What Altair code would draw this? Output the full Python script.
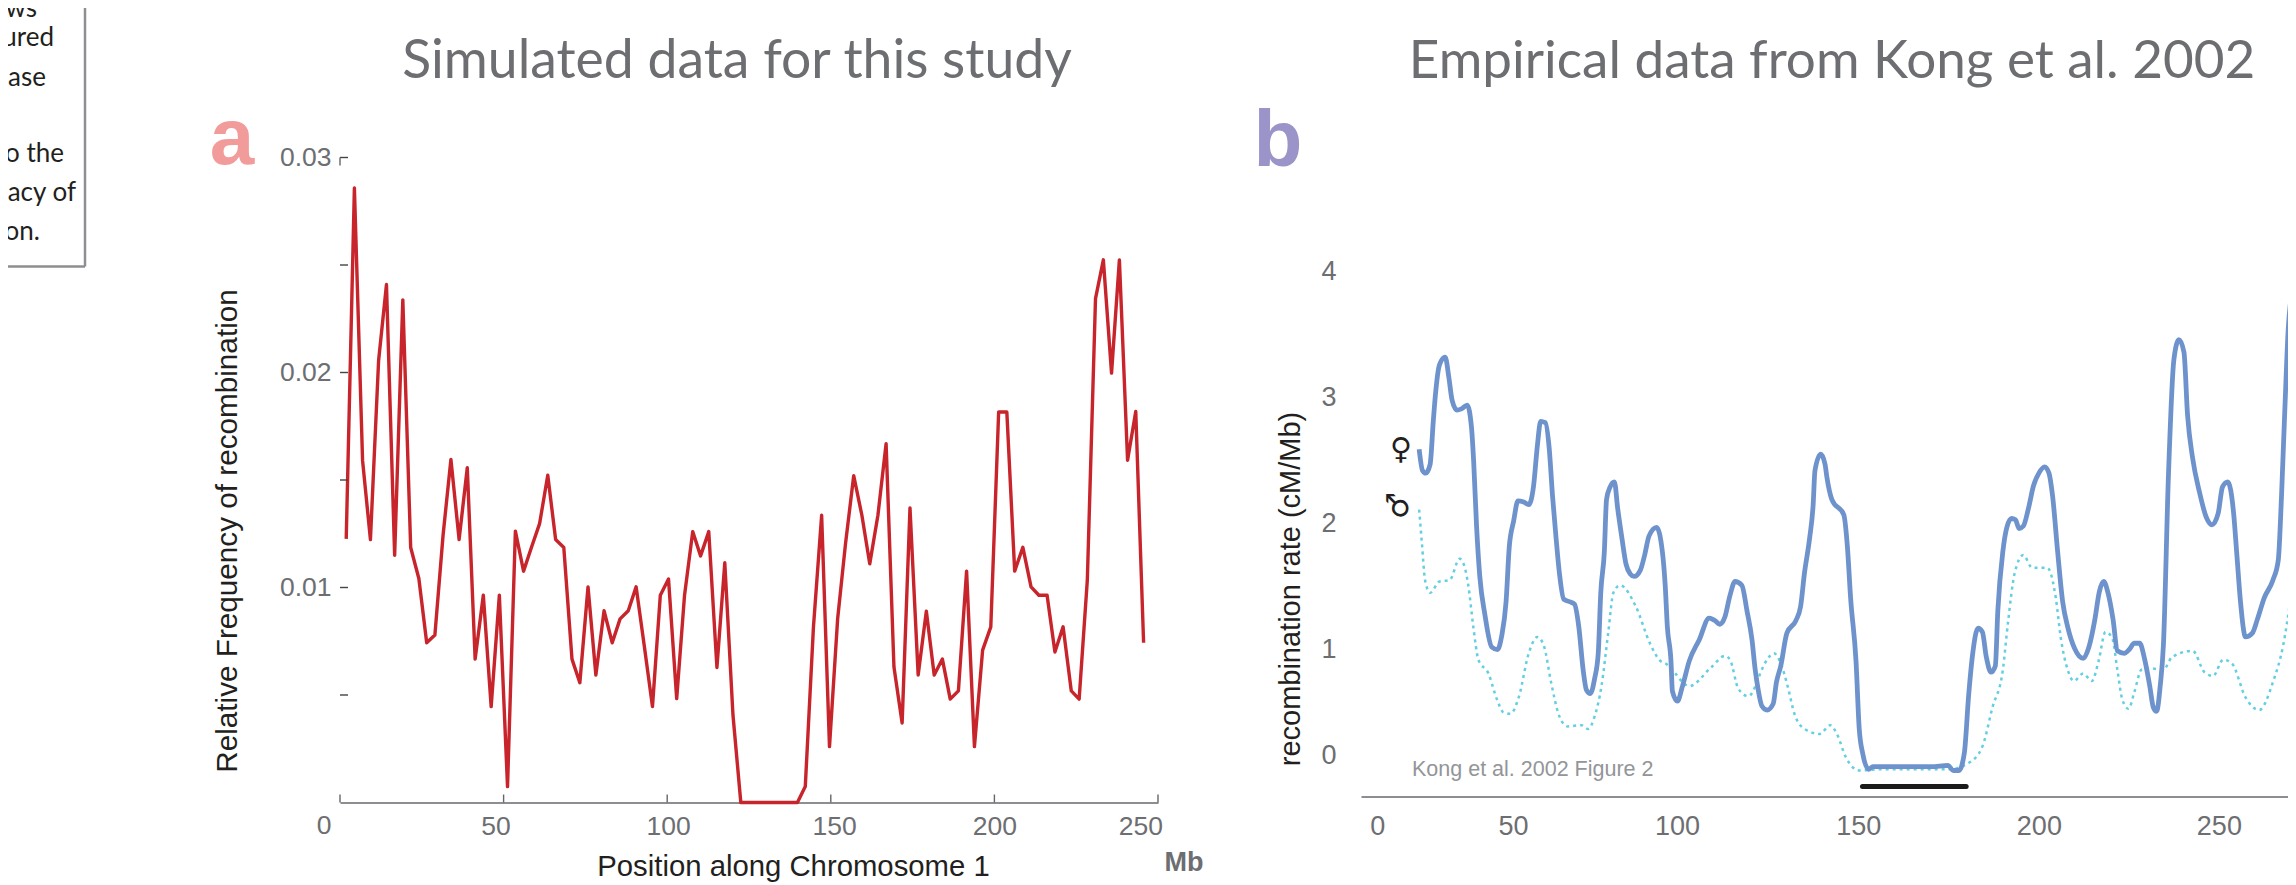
import altair as alt
import pandas as pd

# ---------- panel a: simulated data ----------
sim_x = [1.9,4.4,6.9,9.3,11.8,14.2,16.7,19.2,21.6,24.1,26.5,29.0,31.5,33.9,36.4,38.9,41.3,43.8,46.2,48.7,
         51.2,53.6,56.1,58.5,61.0,63.5,65.9,68.4,70.9,73.3,75.8,78.2,80.7,83.2,85.6,88.1,90.5,93.0,95.5,97.9,
         100.4,102.9,105.3,107.8,110.2,112.7,115.2,117.6,120.1,122.5,125.0,127.5,129.9,132.4,134.9,137.3,139.8,142.2,144.7,147.2,
         149.6,152.1,154.5,157.0,159.5,161.9,164.4,166.9,169.3,171.8,174.2,176.7,179.2,181.6,184.1,186.5,189.0,191.5,193.9,196.4,
         198.9,201.3,203.8,206.2,208.7,211.2,213.6,216.1,218.5,221.0,223.5,225.9,228.4,230.9,233.3,235.8,238.2,240.7,243.2,245.6]
sim_y = [.01226,.02858,.0159,.01223,.02056,.02409,.0115,.02338,.01186,.01042,
         .00743,.00779,.01243,.01596,.01223,.01557,.00667,.00964,.00446,.00964,
         .00074,.01262,.01076,.01186,.01297,.01522,.01223,.01186,.00667,.00557,
         .01003,.00593,.00892,.00743,.00854,.00892,.01003,.00728,.00446,.00964,
         .0104,.00483,.00964,.0126,.01147,.0126,.00628,.01115,.00407,0,
         0,0,0,0,0,0,0,.00074,.00817,.01336,
         .0026,.00856,.01204,.0152,.01336,.0111,.01336,.01669,.0063,.0037,
         .0137,.00593,.0089,.00593,.00667,.00481,.00519,.01076,.0026,.00709,
         .00817,.01816,.01816,.01076,.01187,.01003,.00964,.00964,.0070,.00817,
         .00519,.00481,.01034,.02344,.02524,.01997,.02524,.01592,.01819,.00743]
a_xlabel_pos = [47.5, 100.3, 151, 200, 244.6]
a_xticks = [0, 50, 100, 150, 200, 250]
a_yticks = [0.005, 0.01, 0.015, 0.02, 0.025, 0.03]
a_ylabels = [0.01, 0.02, 0.03]

# ---------- panel b: empirical data ----------
female_x = [28.35,29.3,30.2,31.4,32.3,32.9,34.0,35.6,36.6,37.5,38.9,40.1,41.7,42.9,43.5,44.3,45.2,46.6,48.5,50.1,
            51.3,52.5,53.4,54.6,55.8,57.4,58.8,60.1,61.2,62.1,63.4,64.5,65.4,66.4,67.3,68.5,70.1,71.5,72.7,73.9,
            74.8,75.9,77.1,78.1,78.8,79.8,80.4,81.4,82.6,83.5,84.7,85.8,87.0,88.1,89.8,91.0,92.2,94.3,95.9,96.7,
            97.3,98.3,98.7,100.1,101.5,103.4,106.2,108.9,110.5,111.9,113.3,114.7,116.1,118.0,119.4,120.8,121.7,122.2,123.6,125.0,
            126.7,127.6,128.8,130.5,133.0,134.3,135.4,136.8,137.8,138.3,139.9,141.1,141.6,143.0,146.3,147.3,148.2,149.7,150.6,151.6,
            153.2,154.4,161.0,170.5,175.3,176.7,178.3,179.8,181.0,182.0,183.6,184.8,185.9,187.2,188.4,189.1,190.5,191.6,192.9,194.0,
            195.0,196.2,197.6,199.0,200.5,202.1,203.3,204.3,205.7,207.1,208.5,210.4,212.8,214.4,216.0,217.3,218.5,219.7,221.1,222.3,
            224.2,225.6,227.0,228.5,229.9,231.3,232.3,233.2,234.2,235.1,236.5,238.0,239.4,240.8,241.8,243.2,245.1,247.0,248.6,250.3,
            251.5,253.0,254.6,255.5,256.5,257.9,259.8,261.2,263.1,265.5,267.0,267.9,268.8,269.8,270.7,272.0]
female_y = [2.59,2.42,2.40,2.47,2.82,3.03,3.26,3.32,3.16,2.98,2.90,2.91,2.94,2.76,2.49,1.98,1.58,1.28,1.02,1.00,
            1.11,1.38,1.82,2.02,2.18,2.17,2.15,2.29,2.62,2.81,2.80,2.59,2.22,1.88,1.61,1.40,1.38,1.36,1.18,0.84,
            0.68,0.65,0.77,0.97,1.45,1.78,2.19,2.29,2.33,2.12,1.88,1.68,1.60,1.58,1.63,1.75,1.90,1.97,1.78,1.51,
            1.18,0.91,0.67,0.59,0.71,0.91,1.08,1.25,1.23,1.20,1.26,1.43,1.54,1.51,1.31,1.08,0.84,0.74,0.55,0.52,
            0.57,0.74,0.87,1.13,1.23,1.34,1.61,1.88,2.15,2.42,2.55,2.47,2.37,2.19,2.07,1.82,1.41,0.91,0.37,0.17,
            0.05,0.07,0.07,0.07,0.08,0.04,0.04,0.18,0.64,0.94,1.17,1.14,0.94,0.82,0.87,1.31,1.78,1.97,2.04,2.03,
            1.96,1.98,2.12,2.30,2.40,2.45,2.40,2.22,1.78,1.38,1.18,1.01,0.93,1.02,1.23,1.46,1.54,1.45,1.24,0.99,
            0.97,1.00,1.05,1.05,0.92,0.71,0.54,0.51,0.71,1.04,2.39,3.30,3.46,3.36,2.86,2.52,2.25,2.05,1.99,2.08,
            2.29,2.33,2.08,1.75,1.38,1.10,1.13,1.24,1.41,1.55,1.71,2.22,2.89,3.56,3.83,4.03]
male_x = [28.35,29.1,30.0,31.4,34.0,36.8,39.6,40.7,42.0,43.4,44.8,47.6,49.9,51.8,53.7,56.0,58.8,61.2,63.1,65.0,
          67.3,69.6,73.4,75.3,77.1,79.0,80.9,82.3,84.2,88.4,92.6,95.0,97.3,103.4,109.5,113.3,114.7,117.0,119.8,122.2,
          123.1,125.0,126.9,128.8,130.7,132.6,135.4,139.7,142.5,144.4,146.8,150.6,156.3,165.8,175.3,181.0,184.8,187.6,190.5,191.9,
          193.8,196.2,198.6,202.8,205.2,206.6,208.5,210.2,212.8,215.2,217.1,219.0,220.9,222.3,223.7,225.4,227.0,229.0,231.3,235.1,
          237.5,243.2,246.5,248.9,251.7,254.1,257.9,261.7,265.5,268.4,270.3,272.0]
male_y = [2.11,1.85,1.55,1.45,1.54,1.55,1.72,1.68,1.51,1.18,0.92,0.81,0.61,0.50,0.49,0.62,0.97,1.10,1.02,0.74,
          0.47,0.39,0.40,0.37,0.47,0.71,1.14,1.45,1.51,1.35,1.04,0.92,0.88,0.71,0.86,0.95,0.92,0.69,0.63,0.74,
          0.81,0.92,0.97,0.89,0.71,0.49,0.37,0.33,0.40,0.33,0.15,0.04,0.05,0.05,0.05,0.10,0.23,0.54,0.84,1.21,
          1.61,1.75,1.65,1.65,1.41,1.09,0.84,0.75,0.81,0.75,0.91,1.14,1.09,0.84,0.60,0.53,0.66,0.84,0.85,0.84,
          0.94,0.99,0.82,0.79,0.92,0.89,0.62,0.52,0.74,1.04,1.38,1.75]
bar_x = [151.5, 180.3]
bar_y = [-0.087, -0.087]
b_xlabel_pos = [16.7, 54.4, 100, 150.3, 200.5, 250.5]
b_ylabel_pos = [0.16, 1, 2, 3, 4]

box_lines = ["ws", "ured", "ase", "o the", "acy of", "on."]
box_rights = [-303, -286, -294, -276, -264, -300]
box_ys = [-149, -120, -80, -4, 35, 74]

SANS = "Liberation Sans"
MYR = "Lato"
GREY = "#6d6e71"
INK = "#231f20"

A_W, B_W, H = 818, 927, 645


def note(text, x, y, **kw):
    df = pd.DataFrame({"t": [text]})
    return alt.Chart(df).mark_text(**kw).encode(x=alt.value(x), y=alt.value(y), text="t:N")


a_x = alt.X("x:Q", scale=alt.Scale(domain=[0, 250], nice=False, zero=False),
            axis=alt.Axis(values=a_xlabel_pos, labelExpr="round(datum.value/50)*50", ticks=False, grid=False,
                          title="Position along Chromosome 1", titleFont=SANS, titleFontSize=29.3, titleFontWeight="normal",
                          titleColor=INK, titleX=453, titleY=50, labelFont=SANS, labelFontSize=26.5, labelColor=GREY,
                          labelPadding=11, labelFlush=False, labelOverlap=False, domainColor="#8c8e91", domainWidth=2))
a_y = alt.Y("y:Q", scale=alt.Scale(domain=[0, 0.03], nice=False),
            axis=alt.Axis(values=a_ylabels, format=".2f", ticks=False, grid=False, domain=False,
                          title="Relative Frequency of recombination", titleFont=SANS, titleFontSize=29.7,
                          titleFontWeight="normal", titleColor=INK, titleX=-98, titleY=373,
                          labelFont=SANS, labelFontSize=26.5, labelColor=GREY, labelPadding=9))
red = alt.Chart(pd.DataFrame({"x": sim_x, "y": sim_y})).mark_line(color="#c8242b", strokeWidth=3.4, strokeJoin="round").encode(x=a_x, y=a_y)
a_yt = alt.Chart(pd.DataFrame({"y": a_yticks})).mark_rule(color="#444444", strokeWidth=1.4).encode(
    y="y:Q", x=alt.value(0), x2=alt.value(8))
a_xt = alt.Chart(pd.DataFrame({"x": a_xticks})).mark_rule(color="#666666", strokeWidth=1.4).encode(
    x="x:Q", y=alt.value(H), y2=alt.value(H - 8))
a_cap = alt.Chart(pd.DataFrame({"x": [0]})).mark_rule(color="#666666", strokeWidth=1.4).encode(
    x="x:Q", y=alt.value(0), y2=alt.value(8))

box_v = alt.Chart(pd.DataFrame({"k": [1]})).mark_rule(color="#8c8e91", strokeWidth=2.5).encode(
    x=alt.value(-255), y=alt.value(-165), y2=alt.value(109))
box_h = alt.Chart(pd.DataFrame({"k": [1]})).mark_rule(color="#8c8e91", strokeWidth=2.5).encode(
    x=alt.value(-344), x2=alt.value(-255), y=alt.value(109))
box_text = [note(t, x, y, font=MYR, fontSize=26, color=INK, align="right", baseline="middle")
            for t, x, y in zip(box_lines, box_rights, box_ys)]

panel_a = alt.layer(
    red, a_yt, a_xt, a_cap, box_v, box_h, *box_text,
    note("Simulated data for this study", 397, -96, font=MYR, fontSize=53.5, color=GREY, align="center", baseline="middle"),
    note("a", -108, 6, font=SANS, fontSize=80, fontWeight="bold", color="#f29b9b", align="center", baseline="alphabetic"),
    note("0", -16, 668, font=SANS, fontSize=26.5, color=GREY, align="center", baseline="middle"),
    note("Mb", 844, 705, font=SANS, fontSize=27, fontWeight="bold", color=GREY, align="center", baseline="middle"),
).properties(width=A_W, height=H)

b_x = alt.X("x:Q", scale=alt.Scale(domain=[12.2, 269.7], nice=False, zero=False),
            axis=alt.Axis(values=b_xlabel_pos, labelExpr="round(datum.value/50)*50", ticks=False, grid=False, title=None,
                          labelFont=SANS, labelFontSize=27, labelColor=GREY, labelPadding=17, offset=-6,
                          labelFlush=False, labelOverlap=False, domainColor="#8c8e91", domainWidth=2))
b_y = alt.Y("y:Q", scale=alt.Scale(domain=[-0.214, 4.905], nice=False, zero=False),
            axis=alt.Axis(values=b_ylabel_pos, labelExpr="round(datum.value)", ticks=False, grid=False, domain=False,
                          title="recombination rate (cM/Mb)", titleFont=SANS, titleFontSize=29, titleFontWeight="normal",
                          titleColor=INK, titleX=-56, titleY=431, labelFont=SANS, labelFontSize=27, labelColor=GREY,
                          labelPadding=25, labelOverlap=False))
female = alt.Chart(pd.DataFrame({"x": female_x, "y": female_y})).mark_line(
    color="#6e93cc", strokeWidth=4.8, interpolate="monotone", clip=True).encode(x=b_x, y=b_y)
male = alt.Chart(pd.DataFrame({"x": male_x, "y": male_y})).mark_line(
    color="#63cfe0", strokeWidth=2.5, strokeDash=[3, 4], interpolate="monotone", clip=True).encode(x=b_x, y=b_y)
bar = alt.Chart(pd.DataFrame({"x": bar_x, "y": bar_y})).mark_line(
    color="#1a1a1a", strokeWidth=5, strokeCap="round").encode(x=b_x, y=b_y)

panel_b = alt.layer(
    male, female, bar,
    note("Empirical data from Kong et al. 2002", 471, -96, font=MYR, fontSize=53, color=GREY, align="center", baseline="middle"),
    note("b", -83, 8, font=SANS, fontSize=80, fontWeight="bold", color="#9a94c9", align="center", baseline="alphabetic"),
    note("Kong et al. 2002 Figure 2", 51, 612, font=SANS, fontSize=21.5, color="#939598", align="left", baseline="middle"),
    note("♀", 40, 292, font="DejaVu Sans", fontSize=30, color=INK, align="center", baseline="middle"),
    note("♂", 38, 348, font="DejaVu Sans", fontSize=30, color=INK, align="center", baseline="middle", angle=270),
).properties(width=B_W, height=H)

chart = alt.hconcat(panel_a, panel_b, spacing=49).properties(
    padding={"left": -14, "top": -17.5, "right": 0, "bottom": 12},
    background="white",
).configure_view(strokeWidth=0, stroke=None)

chart.save("out.html", embed_options={"renderer": "svg", "actions": False})
